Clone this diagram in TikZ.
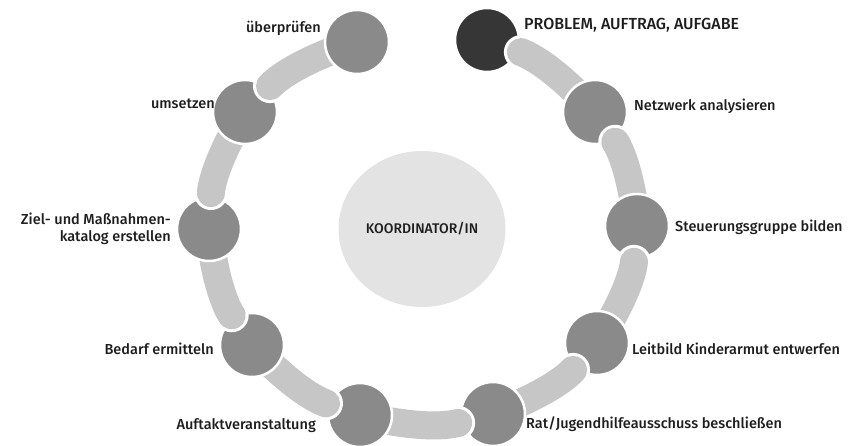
\documentclass[tikz,border=0pt]{standalone}
\usepackage{fontspec}
\setmainfont{Fira Sans Medium}
\usetikzlibrary{shapes.geometric}
\definecolor{discgray}{HTML}{8A8A8A}
\definecolor{discdark}{HTML}{363636}
\definecolor{linkgray}{HTML}{C6C6C6}
\definecolor{hubgray}{HTML}{E3E3E3}
\definecolor{ink}{HTML}{1E1E1E}
\begin{document}
\begin{tikzpicture}[x=1pt,y=-1pt,
  disc/.style={circle, fill=discgray, draw=white, line width=2.5pt, minimum size=64pt, inner sep=0pt},
  darkdisc/.style={disc, fill=discdark},
  link/.style={draw=linkgray, line width=28pt, line cap=round, shorten <=36pt,
    preaction={draw=white, line width=34pt, line cap=round, shorten <=36pt}},
  hub/.style={ellipse, fill=hubgray, minimum width=167pt, minimum height=156pt, inner sep=0pt},
  lbl/.style={text=ink, font=\fontsize{14.5}{17}\selectfont, inner sep=0pt},
  caps/.style={text=ink, font=\fontsize{16}{18}\selectfont, inner sep=0pt}
]
\useasboundingbox (0,0) rectangle (854,446);

% ring positions
\coordinate (p1) at (487,40);
\coordinate (p2) at (595,112);
\coordinate (p3) at (637,226);
\coordinate (p4) at (597,343);
\coordinate (p5) at (493,414);
\coordinate (p6) at (360,415);
\coordinate (p7) at (252,345);
\coordinate (p8) at (209,229);
\coordinate (p9) at (245,112);
\coordinate (p10) at (357,42);

% central role
\node[hub, caps, font=\fontsize{14}{16}\selectfont] (hub) at (422,229) {KOORDINATOR/IN};

% chain: each link starts on top of its disc and runs under the next one
\node[darkdisc] (n1) at (p1) {};
\draw[link] (n1.center) to[bend left=14] (p2);
\node[disc] (n2) at (p2) {};
\draw[link] (n2.center) to[bend left=14] (p3);
\node[disc] (n3) at (p3) {};
\draw[link] (n3.center) to[bend left=14] (p4);
\node[disc] (n4) at (p4) {};
\draw[link] (n4.center) to[bend left=14] (p5);
\node[disc] (n5) at (p5) {};
\draw[link] (n5.center) to[bend left=14] (p6);
\node[disc] (n6) at (p6) {};
\draw[link] (n6.center) to[bend left=14] (p7);
\node[disc] (n7) at (p7) {};
\draw[link] (n7.center) to[bend left=14] (p8);
\node[disc] (n8) at (p8) {};
\draw[link] (n8.center) to[bend left=14] (p9);
\node[disc] (n9) at (p9) {};
\draw[link] (n9.center) to[bend left=14] (p10);
\node[disc] (n10) at (p10) {};

% step labels
\node[caps, anchor=mid west] (t1) at (524,27) {PROBLEM, AUFTRAG, AUFGABE};
\node[lbl, anchor=mid west] (t2) at (634,108) {Netzwerk analysieren};
\node[lbl, anchor=mid west] (t3) at (675,229) {Steuerungsgruppe bilden};
\node[lbl, anchor=mid west] (t4) at (632,352) {Leitbild Kinderarmut entwerfen};
\node[lbl, anchor=mid west] (t5) at (526,426) {Rat/Jugendhilfeausschuss beschließen};
\node[lbl, anchor=mid east] (t6) at (316,427) {Auftaktveranstaltung};
\node[lbl, anchor=mid east] (t7) at (214,352) {Bedarf ermitteln};
\node[lbl, anchor=east, align=right] (t8) at (171,229) {Ziel- und Maßnahmen-\\katalog erstellen};
\node[lbl, anchor=mid east] (t9) at (215,106) {umsetzen};
\node[lbl, anchor=mid east] (t10) at (321,30) {überprüfen};
\end{tikzpicture}
\end{document}
